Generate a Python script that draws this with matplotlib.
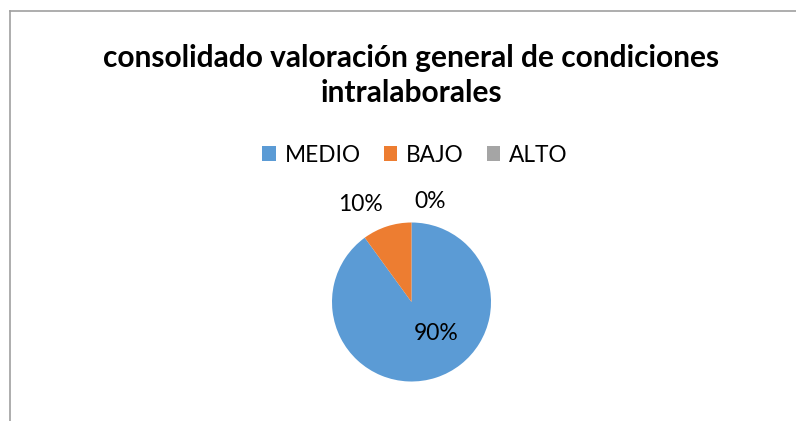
import matplotlib
matplotlib.use("Agg")
import matplotlib.pyplot as plt
from matplotlib.patches import Patch
import numpy as np

categories = ["MEDIO", "BAJO", "ALTO"]
values = [90, 10, 0]
labels = ["90%", "10%", "0%"]
colors = ["#5B9BD5", "#ED7D31", "#A5A5A5"]
title = "consolidado valoración general de condiciones\nintralaborales"

plt.rcParams['font.family'] = ['Lato', 'DejaVu Sans']

W, H = 796, 421
fig = plt.figure(figsize=(W / 100, H / 100), dpi=100)

# Chart border (top and left visible, rest cropped)
fig.add_artist(plt.Line2D([10 / W, 1.0], [1 - 11 / H, 1 - 11 / H], color="#A0A0A0", lw=1.2))
fig.add_artist(plt.Line2D([10 / W, 10 / W], [0, 1 - 11 / H], color="#A0A0A0", lw=1.2))

fig.text(411 / W, 1 - 75.5 / H, title, ha="center", va="center", fontsize=21.5,
         fontweight="bold", linespacing=1.33)

cx, cy, r = 411.5, 302, 79.5
ax = fig.add_axes([(cx - r) / W, (H - cy - r) / H, 2 * r / W, 2 * r / H])
wedges, _ = ax.pie(values, colors=colors, startangle=90, counterclock=False,
                   radius=1.0, wedgeprops=dict(linewidth=0))
ax.set_xlim(-1, 1)
ax.set_ylim(-1, 1)
ax.set_aspect("auto")
ax.axis("off")

label_pos = [(0.31, -0.39), (-0.64, 1.23), (0.24, 1.26)]
for lab, (x, y) in zip(labels, label_pos):
    ax.text(x, y, lab, ha="center", va="center", fontsize=16.5, color="#000000", clip_on=False)

handles = [Patch(facecolor=c, edgecolor="none") for c in colors]
fig.legend(handles, categories, loc="center", bbox_to_anchor=(415 / W, 1 - 155 / H), ncol=3,
           frameon=False, fontsize=16.3, handlelength=0.6, handleheight=0.6,
           handletextpad=0.4, columnspacing=1.0)

fig.savefig("out.png", dpi=100, facecolor="white")
